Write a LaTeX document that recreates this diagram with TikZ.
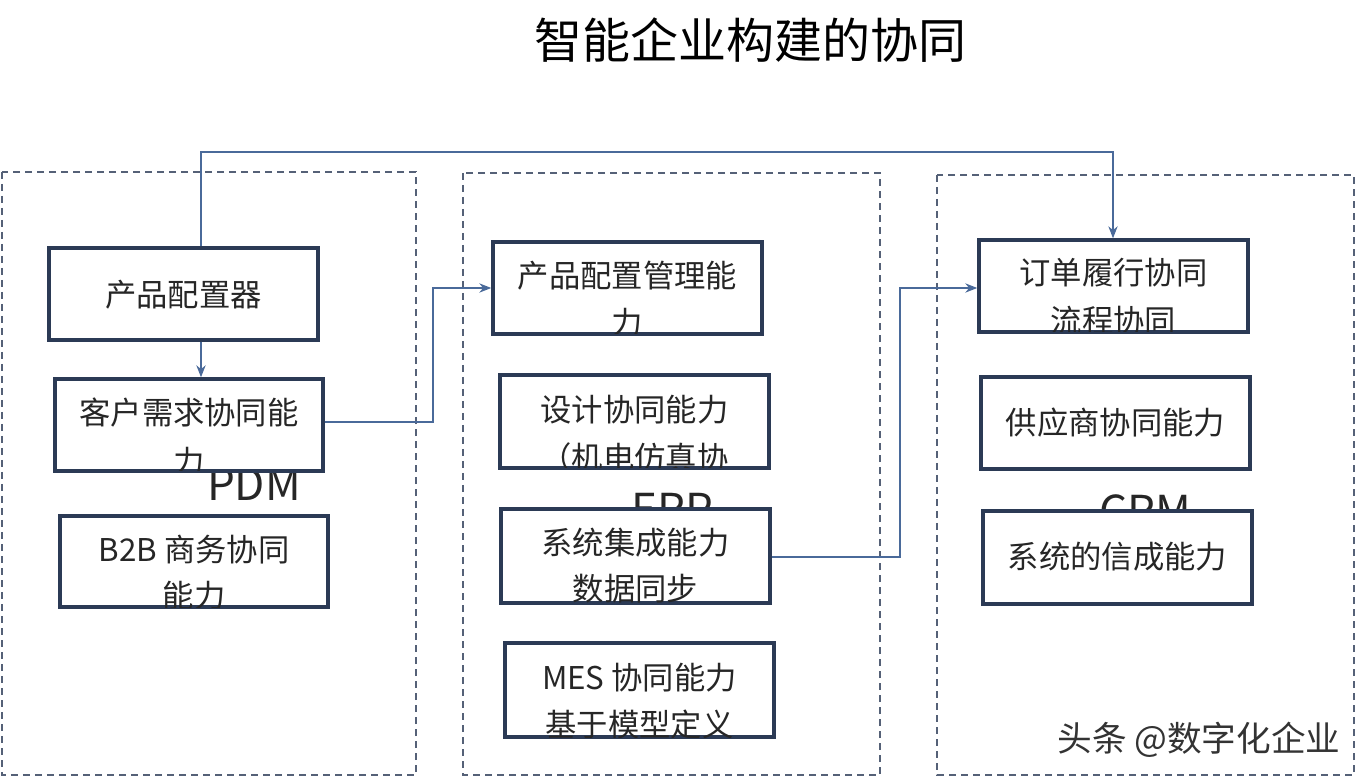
\documentclass[tikz,border=0pt]{standalone}
\usepackage{fontspec}
\setmainfont{Noto Sans CJK SC}
\usetikzlibrary{arrows.meta}
\definecolor{bx}{HTML}{2B3A55}
\definecolor{ar}{HTML}{4A6A9A}
\tikzset{
 box/.style={draw=bx,line width=2.6pt,fill=white,rectangle,inner sep=0pt},
 grp/.style={draw=bx!80,line width=1.1pt,dash pattern=on 5pt off 4pt},
 conn/.style={draw=ar,line width=0.9pt,-{Stealth[length=9pt,width=7pt]}},
 tx/.style={font=\fontsize{23.5}{26}\selectfont,text=black!85},
 lbl/.style={font=\fontsize{33}{36}\selectfont,text=black!85},
}
\newcommand{\mybox}[7]{%
 \node[box,minimum width={(#4-#2)*0.75pt},minimum height={(#5-#3)*0.75pt}] (#1) at ({(#2+#4)/2},{(#3+#5)/2}) {};
 \begin{scope}
 \clip ([shift={(1.3pt,-1.3pt)}]#1.north west) rectangle ([shift={(-1.3pt,1.3pt)}]#1.south east);
 \node[tx] (#1-a) at ({(#2+#4)/2},#6) {#7};
 \end{scope}}
\newcommand{\sline}[3]{%
 \begin{scope}
 \clip ([shift={(1.3pt,-1.3pt)}]#1.north west) rectangle ([shift={(-1.3pt,1.3pt)}]#1.south east);
 \node[tx] (#1-b) at (#1.center |- 0,#2) {#3};
 \end{scope}}
\begin{document}
\begin{tikzpicture}[x=0.75pt,y=-0.75pt]
\useasboundingbox (0,0) rectangle (1364,780);
\node[font=\fontsize{36}{40}\selectfont] (title) at (750,40) {智能企业构建的协同};
\draw[grp] (2,172) rectangle (416,775);
\draw[grp] (463,173) rectangle (880,775);
\draw[grp] (937,175) rectangle (1354,775);
\node[lbl] (pdm) at (254,484) {PDM};
\node[lbl] (erp) at (672,509) {ERP};
\node[lbl] (crm) at (1145,511) {CRM};
% PDM
\mybox{b1}{49}{248}{318}{340}{295}{产品配置器}
\mybox{b2}{55}{379}{323}{471}{413}{客户需求协同能}
\sline{b2}{462}{力}
\mybox{b3}{60}{516}{328}{607}{550}{B2B\ 商务协同}
\sline{b3}{596}{能力}
% ERP
\mybox{e1}{493}{242}{762}{334}{276}{产品配置管理能}
\sline{e1}{323}{力}
\mybox{e2}{500}{375}{769}{468}{410}{设计协同能力}
\sline{e2}{458}{（机电仿真协}
\mybox{e3}{501}{509}{770}{603}{543}{系统集成能力}
\sline{e3}{589}{数据同步}
\mybox{e4}{505}{643}{774}{737}{678}{MES\ 协同能力}
\sline{e4}{725}{基于模型定义}
% CRM
\mybox{c1}{979}{240}{1248}{332}{273}{订单履行协同}
\sline{c1}{321}{流程协同}
\mybox{c2}{981}{377}{1250}{469}{423}{供应商协同能力}
\mybox{c3}{983}{511}{1252}{604}{557}{系统的信成能力}
% connectors
\coordinate (t1) at (201,152);
\coordinate (t2) at (1113,152);
\draw[conn] (b1.north -| t1) -- (t1) -- (t2) -- (t2 |- c1.north);
\draw[conn] (b1.south -| t1) -- (t1 |- b2.north);
\coordinate (m1) at (433,422);
\coordinate (m2) at (433,288);
\draw[conn] (b2.east |- m1) -- (m1) -- (m2) -- (m2 -| e1.west);
\coordinate (n1) at (900,557);
\coordinate (n2) at (900,288);
\draw[conn] (e3.east |- n1) -- (n1) -- (n2) -- (n2 -| c1.west);
\node[font=\fontsize{26}{28}\selectfont,text=black!80] (wm) at (1199,740) {头条 @数字化企业};
\end{tikzpicture}
\end{document}
